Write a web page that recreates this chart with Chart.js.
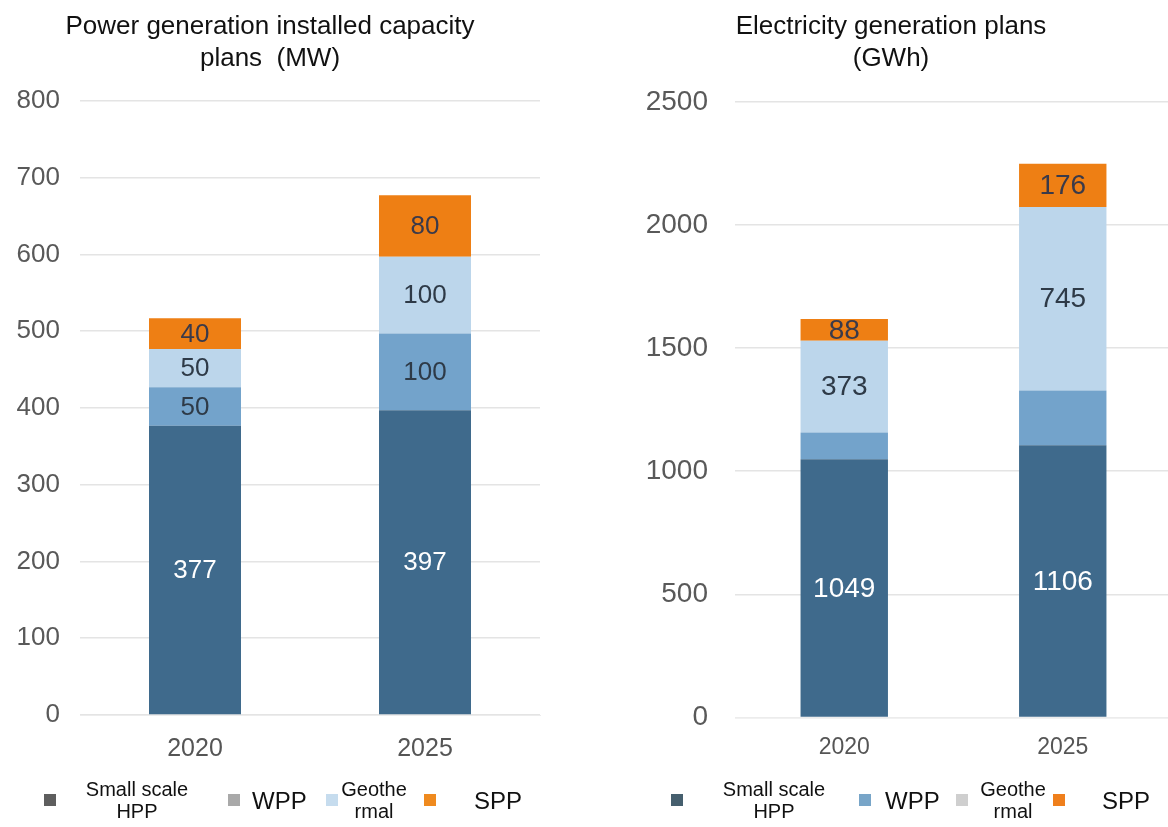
<!DOCTYPE html>
<html>
<head>
<meta charset="utf-8">
<script src="https://cdn.jsdelivr.net/npm/chart.js@4.4.1/dist/chart.umd.min.js"></script>
<style>
  html, body { margin: 0; padding: 0; background: #fff; width: 1168px; height: 827px; overflow: hidden; }
  .box { position: absolute; top: 0; }
  .lg { position: absolute; font-family: "Liberation Sans", Arial, sans-serif; color: #111; }
  .sw { position: absolute; width: 12px; height: 12px; }
  .t2 { position: absolute; font-size: 20px; line-height: 22px; text-align: center; transform: translate(-50%, -50%); white-space: nowrap; }
  .t1 { position: absolute; font-size: 24px; line-height: 26px; transform: translateY(-50%); white-space: nowrap; }
</style>
</head>
<body>
<div class="box" id="leftBox" style="left:0;width:548px;height:783px;"><canvas id="capChart"></canvas></div>
<div class="box" id="rightBox" style="left:610px;width:562px;height:777px;"><canvas id="genChart"></canvas></div>
<div id="legends"></div>
<script>
// Years on the category axis
const years = ['2020', '2025'];
const seriesNames = ['Small scale HPP', 'WPP', 'Geothermal', 'SPP'];

// Installed capacity (MW)
const capHPP = [377, 397];
const capWPP = [50, 100];
const capGeo = [50, 100];
const capSPP = [40, 80];

// Electricity generation (GWh)
const genHPP = [1049, 1106];
const genWPP = [108, 222];
const genGeo = [373, 745];
const genSPP = [88, 176];

// Axis ticks
const capTicks = [0, 100, 200, 300, 400, 500, 600, 700, 800];
const genTicks = [0, 500, 1000, 1500, 2000, 2500];

const FONT = '"Liberation Sans", Arial, sans-serif';
const barColors = ['#3f6a8c', '#73a3cb', '#bcd6eb', '#ee7f14'];

// Writes the segment value in the middle of each stacked bar segment
const segmentLabels = {
  id: 'segmentLabels',
  afterDatasetsDraw(chart, args, opts) {
    const ctx = chart.ctx;
    ctx.save();
    ctx.textAlign = 'center';
    ctx.textBaseline = 'middle';
    ctx.font = opts.size + 'px ' + FONT;
    chart.data.datasets.forEach((ds, di) => {
      if (!opts.show[di]) return;
      const meta = chart.getDatasetMeta(di);
      meta.data.forEach((bar, i) => {
        ctx.fillStyle = opts.colors[di];
        ctx.fillText(String(ds.data[i]), bar.x, (bar.y + bar.base) / 2 + 1);
      });
    });
    ctx.restore();
  }
};

function makeChart(id, titleLines, values, ticks, cfg) {
  const datasets = values.map((v, i) => ({
    label: seriesNames[i],
    data: v,
    backgroundColor: barColors[i],
    borderWidth: 0,
    categoryPercentage: 1,
    barPercentage: 0.4
  }));
  return new Chart(document.getElementById(id), {
    type: 'bar',
    data: { labels: years, datasets },
    options: {
      responsive: true,
      maintainAspectRatio: false,
      animation: false,
      layout: { padding: { left: 0, right: cfg.padRight, top: 0, bottom: 0 } },
      plugins: {
        legend: { display: false },
        tooltip: { enabled: false },
        title: {
          display: true,
          text: titleLines,
          color: '#111',
          font: { family: FONT, size: 26, weight: 'normal', lineHeight: 1.23 },
          padding: { top: 11, bottom: cfg.titleGap }
        },
        segmentLabels: { size: cfg.labelSize, show: cfg.show, colors: ['#ffffff', '#2e3a47', '#2e3a47', '#3a3a4a'] }
      },
      scales: {
        x: {
          stacked: true,
          grid: { display: false, drawTicks: false },
          border: { display: true, color: '#ececec', width: 1 },
          ticks: { color: '#555', font: { family: FONT, size: cfg.xFont }, padding: cfg.xPad }
        },
        y: {
          stacked: true,
          min: 0,
          max: ticks[ticks.length - 1],
          afterBuildTicks(scale) { scale.ticks = ticks.map(v => ({ value: v })); },
          afterFit(scale) { scale.width = cfg.yWidth; },
          grid: { color: '#e4e4e4', lineWidth: 1.5, drawTicks: false },
          border: { display: false },
          ticks: {
            color: '#595959',
            font: { family: FONT, size: cfg.yFont },
            padding: cfg.yPad,
            callback: v => String(v)
          }
        }
      }
    },
    plugins: [segmentLabels]
  });
}

makeChart('capChart', ['Power generation installed capacity', 'plans  (MW)'],
  [capHPP, capWPP, capGeo, capSPP], capTicks,
  { padRight: 8, titleGap: 26, labelSize: 26, show: [true, true, true, true], xFont: 25, xPad: 19, yWidth: 80, yPad: 20, yFont: 26 });

makeChart('genChart', ['Electricity generation plans', '(GWh)'],
  [genHPP, genWPP, genGeo, genSPP], genTicks,
  { padRight: 0, titleGap: 27, labelSize: 28, show: [true, false, true, true], xFont: 23, xPad: 16, yWidth: 125, yPad: 27, yFont: 28 });

// Legend rows under each chart
const legendLines = [['Small scale', 'HPP'], ['WPP'], ['Geothe', 'rmal'], ['SPP']];
const legendRows = [
  { swatch: ['#5e5e5e', '#a9a9a9', '#c6dcee', '#ef8a1f'], sx: [44, 228, 326, 424], tx: [137, 252, 374, 474], y: 800 },
  { swatch: ['#465f6e', '#78a5c8', '#cfcfcf', '#ef7f1c'], sx: [671, 859, 956, 1053], tx: [774, 885, 1013, 1102], y: 800 }
];
const host = document.getElementById('legends');
legendRows.forEach(row => {
  legendLines.forEach((lines, i) => {
    const sw = document.createElement('div');
    sw.className = 'sw';
    sw.style.left = row.sx[i] + 'px';
    sw.style.top = (row.y - 6) + 'px';
    sw.style.background = row.swatch[i];
    host.appendChild(sw);
    const t = document.createElement('div');
    t.className = 'lg ' + (lines.length > 1 ? 't2' : 't1');
    t.style.left = row.tx[i] + 'px';
    t.style.top = (row.y + (lines.length > 1 ? 0 : 1)) + 'px';
    t.innerHTML = lines.join('<br>');
    host.appendChild(t);
  });
});
</script>
</body>
</html>
